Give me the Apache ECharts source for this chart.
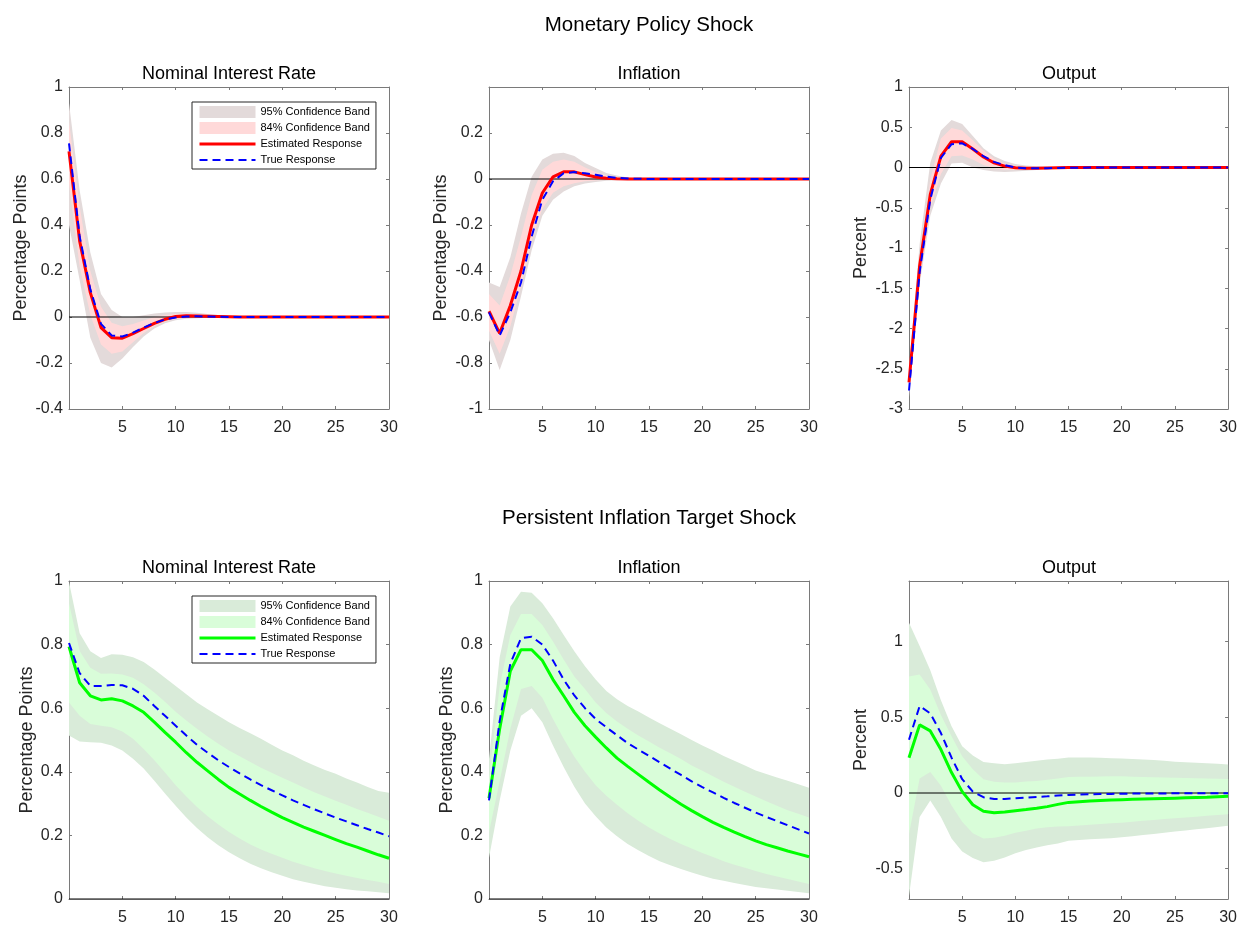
<!DOCTYPE html>
<html>
<head>
<meta charset="utf-8">
<script src="https://cdn.jsdelivr.net/npm/echarts@6/dist/echarts.min.js"></script>
<style>
  html, body { margin: 0; padding: 0; background: #fff; }
  #chart { width: 1240px; height: 926px; }
</style>
</head>
<body>
<div id="chart"></div>
<script>
// horizon (quarters after the shock)
const horizon = [0, 1, 2, 3, 4, 5, 6, 7, 8, 9, 10, 11, 12, 13, 14, 15, 16, 17, 18, 19, 20, 21, 22, 23, 24, 25, 26, 27, 28, 29, 30];
const xTicks = [5, 10, 15, 20, 25, 30];

// monetary policy shock: nominal interest rate
const mpRateEst = [0.72, 0.33, 0.106, -0.046, -0.09, -0.092, -0.072, -0.05, -0.028, -0.01, 0.002, 0.005, 0.004, 0.003, 0.002, 0.001, 0, 0, 0, 0, 0, 0, 0, 0, 0, 0, 0, 0, 0, 0, 0];
const mpRateTrue = [0.755, 0.35, 0.12, -0.03, -0.08, -0.085, -0.068, -0.046, -0.026, -0.011, -0.002, 0.002, 0.003, 0.002, 0.001, 0, 0, 0, 0, 0, 0, 0, 0, 0, 0, 0, 0, 0, 0, 0, 0];
const mpRateHi95 = [0.93, 0.55, 0.28, 0.10, 0.03, 0.0, 0.0, 0.008, 0.015, 0.02, 0.022, 0.022, 0.018, 0.013, 0.009, 0.006, 0.004, 0.003, 0.002, 0.001, 0.001, 0, 0, 0, 0, 0, 0, 0, 0, 0, 0];
const mpRateHi84 = [0.85, 0.48, 0.2, 0.045, -0.025, -0.04, -0.03, -0.015, 0.0, 0.009, 0.013, 0.014, 0.012, 0.009, 0.006, 0.004, 0.003, 0.002, 0.001, 0, 0, 0, 0, 0, 0, 0, 0, 0, 0, 0, 0];
const mpRateLo84 = [0.58, 0.22, 0.01, -0.12, -0.16, -0.15, -0.11, -0.07, -0.04, -0.02, -0.009, -0.004, -0.002, -0.001, 0, 0, 0, 0, 0, 0, 0, 0, 0, 0, 0, 0, 0, 0, 0, 0, 0];
const mpRateLo95 = [0.40, 0.16, -0.09, -0.20, -0.22, -0.18, -0.13, -0.085, -0.05, -0.027, -0.014, -0.008, -0.005, -0.003, -0.002, -0.001, 0, 0, 0, 0, 0, 0, 0, 0, 0, 0, 0, 0, 0, 0, 0];

// monetary policy shock: inflation
const mpInflEst = [-0.575, -0.671, -0.55, -0.40, -0.20, -0.061, 0.009, 0.031, 0.031, 0.019, 0.009, 0.003, 0.001, 0, 0, 0, 0, 0, 0, 0, 0, 0, 0, 0, 0, 0, 0, 0, 0, 0, 0];
const mpInflTrue = [-0.58, -0.68, -0.58, -0.45, -0.25, -0.09, -0.01, 0.025, 0.03, 0.025, 0.018, 0.01, 0.005, 0.002, 0.001, 0, 0, 0, 0, 0, 0, 0, 0, 0, 0, 0, 0, 0, 0, 0, 0];
const mpInflHi95 = [-0.45, -0.47, -0.34, -0.15, 0.01, 0.085, 0.11, 0.114, 0.10, 0.07, 0.048, 0.026, 0.015, 0.007, 0.003, 0.001, 0, 0, 0, 0, 0, 0, 0, 0, 0, 0, 0, 0, 0, 0, 0];
const mpInflHi84 = [-0.5, -0.55, -0.42, -0.25, -0.07, 0.04, 0.075, 0.085, 0.075, 0.05, 0.03, 0.015, 0.008, 0.004, 0.002, 0.001, 0, 0, 0, 0, 0, 0, 0, 0, 0, 0, 0, 0, 0, 0, 0];
const mpInflLo84 = [-0.66, -0.76, -0.64, -0.47, -0.27, -0.13, -0.06, -0.032, -0.018, -0.01, -0.006, -0.003, -0.002, -0.001, 0, 0, 0, 0, 0, 0, 0, 0, 0, 0, 0, 0, 0, 0, 0, 0, 0];
const mpInflLo95 = [-0.70, -0.83, -0.70, -0.51, -0.31, -0.16, -0.09, -0.054, -0.032, -0.02, -0.013, -0.008, -0.005, -0.003, -0.002, -0.001, 0, 0, 0, 0, 0, 0, 0, 0, 0, 0, 0, 0, 0, 0, 0];

// monetary policy shock: output
const mpOutEst = [-2.67, -1.22, -0.335, 0.14, 0.32, 0.32, 0.23, 0.13, 0.058, 0.017, -0.004, -0.01, -0.008, -0.005, -0.003, -0.001, 0, 0, 0, 0, 0, 0, 0, 0, 0, 0, 0, 0, 0, 0, 0];
const mpOutTrue = [-2.77, -1.3, -0.4, 0.12, 0.29, 0.30, 0.23, 0.14, 0.07, 0.03, 0.0, -0.01, -0.01, -0.008, -0.005, -0.003, -0.002, -0.001, 0, 0, 0, 0, 0, 0, 0, 0, 0, 0, 0, 0, 0];
const mpOutHi95 = [-2.5, -0.95, 0.06, 0.46, 0.59, 0.54, 0.39, 0.24, 0.14, 0.08, 0.045, 0.025, 0.015, 0.01, 0.005, 0.003, 0.002, 0.001, 0, 0, 0, 0, 0, 0, 0, 0, 0, 0, 0, 0, 0];
const mpOutHi84 = [-2.6, -1.1, -0.15, 0.36, 0.49, 0.46, 0.34, 0.21, 0.11, 0.05, 0.02, 0.01, 0.006, 0.004, 0.002, 0.001, 0, 0, 0, 0, 0, 0, 0, 0, 0, 0, 0, 0, 0, 0, 0];
const mpOutLo84 = [-2.78, -1.38, -0.5, -0.08, 0.14, 0.15, 0.1, 0.03, -0.01, -0.03, -0.03, -0.025, -0.02, -0.012, -0.007, -0.003, -0.001, 0, 0, 0, 0, 0, 0, 0, 0, 0, 0, 0, 0, 0, 0];
const mpOutLo95 = [-2.85, -1.45, -0.6, -0.2, 0.05, 0.06, 0.0, -0.03, -0.05, -0.055, -0.05, -0.04, -0.03, -0.02, -0.012, -0.007, -0.004, -0.002, -0.001, 0, 0, 0, 0, 0, 0, 0, 0, 0, 0, 0, 0];

// persistent inflation target shock: nominal interest rate
const ptRateEst = [0.794, 0.68, 0.639, 0.626, 0.63, 0.623, 0.607, 0.587, 0.556, 0.524, 0.493, 0.46, 0.43, 0.403, 0.376, 0.351, 0.33, 0.31, 0.291, 0.273, 0.256, 0.241, 0.226, 0.213, 0.2, 0.187, 0.174, 0.163, 0.151, 0.139, 0.128];
const ptRateTrue = [0.805, 0.71, 0.67, 0.67, 0.673, 0.672, 0.661, 0.639, 0.607, 0.576, 0.545, 0.514, 0.485, 0.46, 0.436, 0.415, 0.395, 0.376, 0.358, 0.342, 0.326, 0.31, 0.296, 0.282, 0.269, 0.256, 0.244, 0.232, 0.22, 0.209, 0.197];
const ptRateHi95 = [0.997, 0.836, 0.779, 0.758, 0.77, 0.768, 0.76, 0.745, 0.722, 0.696, 0.67, 0.644, 0.618, 0.597, 0.576, 0.556, 0.538, 0.521, 0.504, 0.485, 0.467, 0.452, 0.435, 0.42, 0.406, 0.394, 0.379, 0.366, 0.352, 0.34, 0.334];
const ptRateHi84 = [0.93, 0.78, 0.727, 0.708, 0.709, 0.706, 0.696, 0.675, 0.649, 0.62, 0.589, 0.561, 0.535, 0.511, 0.488, 0.467, 0.449, 0.431, 0.413, 0.397, 0.381, 0.366, 0.351, 0.336, 0.322, 0.309, 0.296, 0.283, 0.271, 0.259, 0.246];
const ptRateLo84 = [0.618, 0.576, 0.55, 0.545, 0.54, 0.527, 0.504, 0.472, 0.436, 0.398, 0.358, 0.322, 0.289, 0.26, 0.234, 0.211, 0.19, 0.171, 0.156, 0.142, 0.13, 0.117, 0.107, 0.097, 0.088, 0.08, 0.073, 0.066, 0.06, 0.054, 0.047];
const ptRateLo95 = [0.514, 0.495, 0.493, 0.491, 0.483, 0.467, 0.441, 0.41, 0.372, 0.332, 0.293, 0.256, 0.223, 0.194, 0.169, 0.147, 0.128, 0.111, 0.097, 0.084, 0.073, 0.062, 0.054, 0.047, 0.04, 0.035, 0.031, 0.027, 0.024, 0.021, 0.018];

// persistent inflation target shock: inflation
const ptInflEst = [0.317, 0.535, 0.717, 0.784, 0.784, 0.75, 0.69, 0.639, 0.587, 0.545, 0.509, 0.475, 0.443, 0.417, 0.392, 0.367, 0.343, 0.32, 0.298, 0.278, 0.259, 0.241, 0.225, 0.21, 0.196, 0.183, 0.171, 0.161, 0.151, 0.142, 0.133];
const ptInflTrue = [0.31, 0.56, 0.74, 0.82, 0.825, 0.80, 0.75, 0.69, 0.64, 0.60, 0.566, 0.54, 0.515, 0.49, 0.47, 0.45, 0.43, 0.41, 0.39, 0.37, 0.352, 0.335, 0.318, 0.302, 0.287, 0.272, 0.258, 0.245, 0.232, 0.219, 0.206];
const ptInflHi95 = [0.44, 0.76, 0.92, 0.966, 0.963, 0.93, 0.883, 0.83, 0.779, 0.732, 0.69, 0.654, 0.628, 0.607, 0.59, 0.571, 0.553, 0.535, 0.518, 0.5, 0.483, 0.467, 0.45, 0.435, 0.42, 0.404, 0.393, 0.382, 0.372, 0.361, 0.35];
const ptInflHi84 = [0.38, 0.67, 0.83, 0.896, 0.896, 0.862, 0.81, 0.753, 0.7, 0.66, 0.618, 0.585, 0.558, 0.535, 0.514, 0.495, 0.476, 0.458, 0.44, 0.42, 0.403, 0.386, 0.369, 0.353, 0.337, 0.322, 0.307, 0.293, 0.279, 0.268, 0.256];
const ptInflLo84 = [0.21, 0.37, 0.535, 0.66, 0.67, 0.633, 0.566, 0.504, 0.447, 0.4, 0.358, 0.325, 0.296, 0.27, 0.246, 0.225, 0.206, 0.189, 0.173, 0.159, 0.145, 0.132, 0.119, 0.108, 0.098, 0.088, 0.079, 0.071, 0.063, 0.055, 0.047];
const ptInflLo95 = [0.13, 0.31, 0.467, 0.576, 0.6, 0.556, 0.483, 0.415, 0.353, 0.3, 0.26, 0.225, 0.197, 0.173, 0.153, 0.135, 0.119, 0.106, 0.094, 0.083, 0.073, 0.064, 0.057, 0.05, 0.044, 0.038, 0.034, 0.03, 0.026, 0.022, 0.018];

// persistent inflation target shock: output
const ptOutEst = [0.233, 0.45, 0.41, 0.287, 0.135, 0.009, -0.078, -0.12, -0.13, -0.126, -0.117, -0.109, -0.1, -0.09, -0.075, -0.062, -0.057, -0.053, -0.05, -0.047, -0.044, -0.042, -0.04, -0.038, -0.036, -0.034, -0.032, -0.03, -0.028, -0.025, -0.022];
const ptOutTrue = [0.352, 0.574, 0.526, 0.396, 0.233, 0.091, 0.009, -0.028, -0.039, -0.039, -0.035, -0.03, -0.026, -0.022, -0.017, -0.013, -0.01, -0.008, -0.007, -0.006, -0.005, -0.004, -0.004, -0.003, -0.003, -0.002, -0.002, -0.002, -0.001, -0.001, -0.001];
const ptOutHi95 = [1.124, 0.97, 0.81, 0.613, 0.44, 0.309, 0.248, 0.204, 0.196, 0.19, 0.196, 0.204, 0.213, 0.222, 0.226, 0.235, 0.235, 0.234, 0.232, 0.23, 0.228, 0.225, 0.222, 0.218, 0.213, 0.207, 0.203, 0.2, 0.196, 0.193, 0.189];
const ptOutHi84 = [0.77, 0.783, 0.683, 0.515, 0.374, 0.243, 0.157, 0.091, 0.074, 0.07, 0.07, 0.076, 0.08, 0.087, 0.095, 0.105, 0.107, 0.108, 0.109, 0.11, 0.11, 0.108, 0.106, 0.104, 0.102, 0.1, 0.099, 0.097, 0.096, 0.094, 0.093];
const ptOutLo84 = [-0.27, 0.095, 0.139, 0.048, -0.083, -0.19, -0.265, -0.3, -0.296, -0.283, -0.263, -0.25, -0.235, -0.226, -0.222, -0.22, -0.215, -0.21, -0.205, -0.2, -0.196, -0.19, -0.184, -0.178, -0.172, -0.167, -0.162, -0.157, -0.151, -0.146, -0.141];
const ptOutLo95 = [-0.68, -0.159, -0.05, -0.159, -0.3, -0.387, -0.43, -0.457, -0.448, -0.426, -0.398, -0.376, -0.36, -0.345, -0.333, -0.315, -0.31, -0.306, -0.302, -0.298, -0.293, -0.285, -0.277, -0.27, -0.262, -0.254, -0.247, -0.24, -0.232, -0.225, -0.217];

// y tick labels
const mpRateTicks = [-0.4, -0.2, 0, 0.2, 0.4, 0.6, 0.8, 1];
const mpInflTicks = [-1, -0.8, -0.6, -0.4, -0.2, 0, 0.2];
const mpOutTicks = [-3, -2.5, -2, -1.5, -1, -0.5, 0, 0.5, 1];
const ptRateTicks = [0, 0.2, 0.4, 0.6, 0.8, 1];
const ptInflTicks = [0, 0.2, 0.4, 0.6, 0.8, 1];
const ptOutTicks = [-0.5, 0, 0.5, 1];

const FONT = "'Liberation Sans', Arial, Helvetica, sans-serif";
const TEXT = '#262626';
const AXIS = '#7a7a7a';

const rows = [
  { title: 'Monetary Policy Shock', lineColor: '#ff0000', c95: '#e3dada', c84: '#ffd9d9' },
  { title: 'Persistent Inflation Target Shock', lineColor: '#00ff00', c95: '#d9ebd9', c84: '#d9fdd9' }
];

const panels = [
  { row: 0, col: 0, title: 'Nominal Interest Rate', yName: 'Percentage Points', min: -0.4, max: 1, ticks: mpRateTicks, gap: 39, est: mpRateEst, truth: mpRateTrue, lo95: mpRateLo95, lo84: mpRateLo84, hi84: mpRateHi84, hi95: mpRateHi95 },
  { row: 0, col: 1, title: 'Inflation', yName: 'Percentage Points', min: -1, max: 0.4, ticks: mpInflTicks, gap: 39, est: mpInflEst, truth: mpInflTrue, lo95: mpInflLo95, lo84: mpInflLo84, hi84: mpInflHi84, hi95: mpInflHi95 },
  { row: 0, col: 2, title: 'Output', yName: 'Percent', min: -3, max: 1, ticks: mpOutTicks, gap: 39, est: mpOutEst, truth: mpOutTrue, lo95: mpOutLo95, lo84: mpOutLo84, hi84: mpOutHi84, hi95: mpOutHi95 },
  { row: 1, col: 0, title: 'Nominal Interest Rate', yName: 'Percentage Points', min: 0, max: 1, ticks: ptRateTicks, gap: 33, est: ptRateEst, truth: ptRateTrue, lo95: ptRateLo95, lo84: ptRateLo84, hi84: ptRateHi84, hi95: ptRateHi95 },
  { row: 1, col: 1, title: 'Inflation', yName: 'Percentage Points', min: 0, max: 1, ticks: ptInflTicks, gap: 33, est: ptInflEst, truth: ptInflTrue, lo95: ptInflLo95, lo84: ptInflLo84, hi84: ptInflHi84, hi95: ptInflHi95 },
  { row: 1, col: 2, title: 'Output', yName: 'Percent', min: -0.7, max: 1.4, ticks: ptOutTicks, gap: 39, est: ptOutEst, truth: ptOutTrue, lo95: ptOutLo95, lo84: ptOutLo84, hi84: ptOutHi84, hi95: ptOutHi95 }
];

const gridLeft = [69, 489, 909];
const gridTop = [87, 581];
const gridH = [322, 321];
const gridW = 320;

const pairs = ys => horizon.map((x, i) => [x, ys[i]]);

const grids = [], xAxes = [], yAxes = [], series = [], titles = [];

rows.forEach((r, i) => {
  titles.push({ text: r.title, left: 649, top: i === 0 ? 15 : 508, textAlign: 'center', padding: 0,
    textStyle: { fontFamily: FONT, fontSize: 20.5, fontWeight: 'normal', color: '#000' } });
});

// confidence band as one filled polygon, drawn through the axis scales
function bandSeries(k, name, lo, hi, color) {
  return {
    type: 'custom', name: name, xAxisIndex: 2 * k, yAxisIndex: 2 * k, silent: true, z: 1,
    data: horizon.map((x, i) => [x, lo[i], hi[i]]),
    encode: { x: 0, y: [1, 2] },
    itemStyle: { color: color },
    renderItem: (params, api) => {
      if (params.dataIndex !== 0) return null;
      const upper = horizon.map((x, i) => api.coord([x, hi[i]]));
      const lower = horizon.map((x, i) => api.coord([x, lo[i]])).reverse();
      return { type: 'polygon', shape: { points: upper.concat(lower) }, style: { fill: color }, silent: true };
    }
  };
}

panels.forEach((p, k) => {
  const r = rows[p.row];
  const left = gridLeft[p.col];
  const top = gridTop[p.row];
  grids.push({ left: left, top: top, width: gridW, height: gridH[p.row] });
  titles.push({ text: p.title, left: left + gridW / 2, top: top - 22, textAlign: 'center', padding: 0,
    textStyle: { fontFamily: FONT, fontSize: 18, fontWeight: 'normal', color: '#000' } });

  ['bottom', 'top'].forEach(pos => {
    xAxes.push({
      type: 'value', gridIndex: k, position: pos, min: 0, max: 30,
      axisLine: { show: true, onZero: false, lineStyle: { color: AXIS, width: 1 } },
      axisTick: { show: true, inside: true, length: 3, customValues: xTicks, lineStyle: { color: AXIS } },
      axisLabel: { show: pos === 'bottom', customValues: xTicks, margin: 11, fontSize: 16, fontFamily: FONT, color: TEXT },
      splitLine: { show: false }
    });
  });
  ['left', 'right'].forEach(pos => {
    yAxes.push({
      type: 'value', gridIndex: k, position: pos, min: p.min, max: p.max,
      name: pos === 'left' ? p.yName : '', nameLocation: 'middle', nameGap: p.gap, nameRotate: 90,
      nameTextStyle: { fontFamily: FONT, fontSize: 18, color: TEXT },
      axisLine: { show: true, onZero: false, lineStyle: { color: AXIS, width: 1 } },
      axisTick: { show: true, inside: true, length: 3, customValues: p.ticks, lineStyle: { color: AXIS } },
      axisLabel: { show: pos === 'left', customValues: p.ticks, margin: 6, fontSize: 16, fontFamily: FONT, color: TEXT },
      splitLine: { show: false }
    });
  });

  const ax = { xAxisIndex: 2 * k, yAxisIndex: 2 * k };
  series.push(bandSeries(k, '95% Confidence Band#' + p.row, p.lo95, p.hi95, r.c95));
  series.push(bandSeries(k, '84% Confidence Band#' + p.row, p.lo84, p.hi84, r.c84));

  // zero reference line
  series.push(Object.assign({
    type: 'line', name: 'zero' + k, data: [[horizon[0], 0], [horizon[horizon.length - 1], 0]],
    symbol: 'none', silent: true, z: 2, lineStyle: { color: '#000', width: 1 }
  }, ax));

  series.push(Object.assign({
    type: 'line', name: 'Estimated Response#' + p.row, data: pairs(p.est),
    symbol: 'none', z: 3, lineStyle: { color: r.lineColor, width: 3 }, itemStyle: { color: r.lineColor }
  }, ax));
  series.push(Object.assign({
    type: 'line', name: 'True Response#' + p.row, data: pairs(p.truth),
    symbol: 'none', z: 4, lineStyle: { color: '#0000ff', width: 2, type: [8, 5] }, itemStyle: { color: '#0000ff' }
  }, ax));
});

const legends = rows.map((r, i) => ({
  orient: 'vertical', left: 192, top: gridTop[i] + 15,
  padding: [4, 6, 3, 6], itemWidth: 56, itemHeight: 12, itemGap: 4,
  borderColor: '#262626', borderWidth: 1, backgroundColor: '#fff',
  selectedMode: false,
  textStyle: { fontFamily: FONT, fontSize: 11, color: '#000', lineHeight: 12 },
  formatter: n => n.split('#')[0],
  data: [
    { name: '95% Confidence Band#' + i, icon: 'rect', itemStyle: { color: r.c95, borderWidth: 0 } },
    { name: '84% Confidence Band#' + i, icon: 'rect', itemStyle: { color: r.c84, borderWidth: 0 } },
    { name: 'Estimated Response#' + i, itemStyle: { opacity: 0 }, lineStyle: { color: r.lineColor, width: 3, type: 'solid' } },
    { name: 'True Response#' + i, itemStyle: { opacity: 0 }, lineStyle: { color: '#0000ff', width: 2, type: [8, 5] } }
  ]
}));

const chart = echarts.init(document.getElementById('chart'), null, { renderer: 'canvas' });
chart.setOption({
  animation: false,
  backgroundColor: '#fff',
  textStyle: { fontFamily: FONT },
  title: titles,
  legend: legends,
  grid: grids,
  xAxis: xAxes,
  yAxis: yAxes,
  series: series
});
</script>
</body>
</html>
